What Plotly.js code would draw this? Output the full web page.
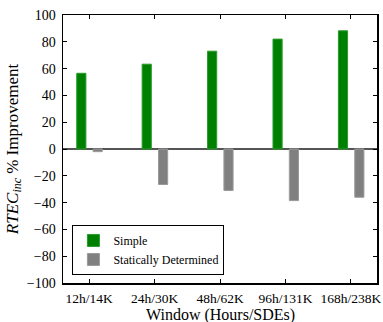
<!DOCTYPE html>
<html><head><meta charset="utf-8">
<script src="https://cdn.plot.ly/plotly-3.0.1.min.js"></script>
<style>html,body{margin:0;padding:0;background:#fff;}</style>
</head><body><div id="chart" style="width:383px;height:322px;"></div>
<script>
var categories = ["12h/14K", "24h/30K", "48h/62K", "96h/131K", "168h/238K"];
var simple = [56.5, 63.3, 73.0, 82.0, 88.2];
var statDet = [-2.0, -26.5, -31.0, -38.5, -36.0];
var yTicks = [-100, -80, -60, -40, -20, 0, 20, 40, 60, 80, 100];
var xIdx = categories.map(function(_, i){ return i; });

var serif = '"Liberation Serif", "DejaVu Serif", serif';
var traces = [
  {type:'bar', name:'Simple', x:xIdx, y:simple, width:0.14, offset:-0.19,
   marker:{color:'#008000', line:{color:'#2a9a2a', width:1}}},
  {type:'bar', name:'Statically Determined', x:xIdx, y:statDet, width:0.14, offset:0.06,
   marker:{color:'#808080', line:{color:'#9a9a9a', width:1}}}
];
var layout = {
  width:383, height:322,
  margin:{l:63, r:6, t:15, b:39},
  paper_bgcolor:'#fff', plot_bgcolor:'#fff',
  barmode:'overlay', showlegend:true,
  font:{family:serif, size:13, color:'#000', weight:'normal'},
  xaxis:{range:[-0.4,4.4], tickvals:xIdx, ticktext:categories,
    ticks:'inside', ticklen:4, tickcolor:'#000', showline:true, linecolor:'#000', linewidth:1.5,
    mirror:'ticks', showgrid:false, zeroline:false, tickfont:{family:serif, size:13.5},
    ticklabelstandoff:2, automargin:false},
  yaxis:{range:[-100,100], tickvals:yTicks, ticktext:yTicks.map(function(v){return v<0?'\u2212'+(-v):String(v);}),
    ticks:'inside', ticklen:4, tickcolor:'#000', showline:true, linecolor:'#000', linewidth:1.5,
    mirror:'ticks', showgrid:false, zeroline:true, zerolinecolor:'#555', zerolinewidth:2,
    tickfont:{family:serif, size:14}, ticklabelstandoff:3,
    title:{text:'<i>RTEC</i><sub><i>inc</i></sub> % Improvement', font:{family:serif, size:17, weight:'normal'}, standoff:4}, automargin:false},
  annotations:[{text:'Window (Hours/SDEs)', xref:'paper', yref:'paper', x:0.5, y:-0.119,
    xanchor:'center', yanchor:'middle', showarrow:false, font:{family:serif, size:16}}],
  legend:{x:0.03, y:0.03, xanchor:'left', yanchor:'bottom', bgcolor:'#fff', bordercolor:'#000', borderwidth:1,
    font:{family:serif, size:12, weight:'normal'}, tracegroupgap:0, itemwidth:30}
};
Plotly.newPlot('chart', traces, layout, {staticPlot:true, displayModeBar:false});
</script></body></html>
